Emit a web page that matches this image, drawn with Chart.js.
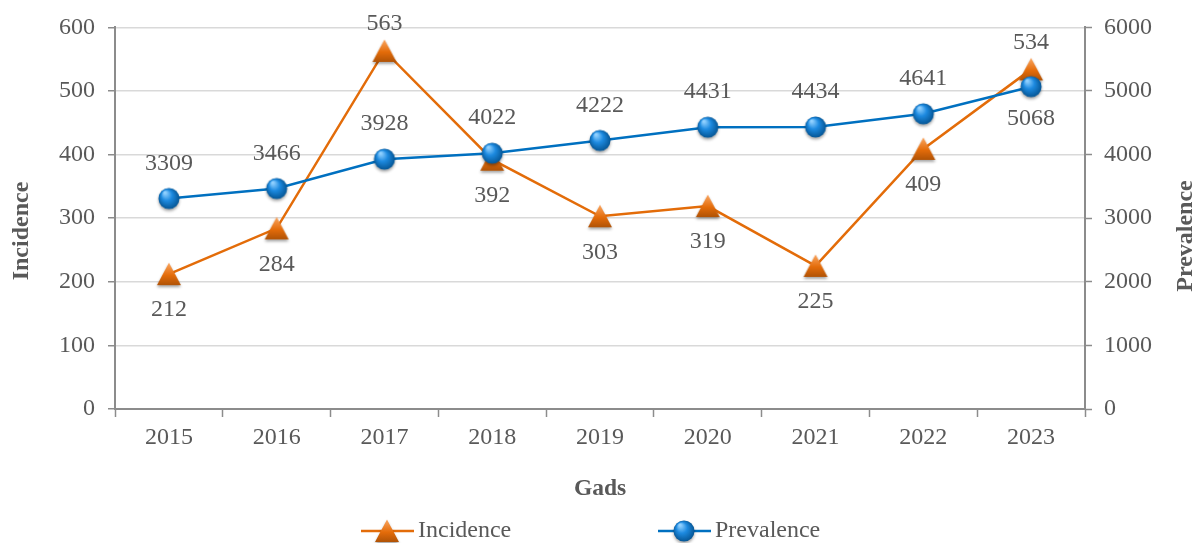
<!DOCTYPE html>
<html>
<head>
<meta charset="utf-8">
<script src="https://cdn.jsdelivr.net/npm/chart.js@4/dist/chart.umd.min.js"></script>
<style>
  html, body { margin: 0; padding: 0; background: #ffffff; }
  #wrap { width: 1196px; height: 543px; }
</style>
</head>
<body>
<div id="wrap"><canvas id="chart" width="1196" height="543"></canvas></div>
<script>
// Donnees du graphique
const years = ['2015', '2016', '2017', '2018', '2019', '2020', '2021', '2022', '2023'];
const incidence = [212, 284, 563, 392, 303, 319, 225, 409, 534];
const prevalence = [3309, 3466, 3928, 4022, 4222, 4431, 4434, 4641, 5068];

// indices dont l'etiquette change de cote
const incidenceLabelsAbove = [2, 8];
const prevalenceLabelsBelow = [8];

const FONT = '"Liberation Serif", "Times New Roman", serif';
const TEXT_COLOR = '#595959';
const AXIS_COLOR = '#8c8c8c';
const GRID_COLOR = '#d9d9d9';
const ORANGE = '#e36c09';
const BLUE = '#0070c0';

// Marqueur triangle orange avec degrade et ombre
function makeTriangle() {
  const c = document.createElement('canvas');
  c.width = 34;
  c.height = 34;
  const g = c.getContext('2d');
  g.shadowColor = 'rgba(0,0,0,0.35)';
  g.shadowBlur = 3;
  g.shadowOffsetY = 2;
  g.beginPath();
  g.moveTo(17, 5.5);
  g.lineTo(29, 28);
  g.lineTo(5, 28);
  g.closePath();
  const grad = g.createLinearGradient(0, 6, 0, 28);
  grad.addColorStop(0, '#f9a45e');
  grad.addColorStop(0.55, '#e46c0a');
  grad.addColorStop(1, '#b05306');
  g.fillStyle = grad;
  g.fill();
  return c;
}

// Marqueur sphere bleue
function makeSphere() {
  const c = document.createElement('canvas');
  c.width = 34;
  c.height = 34;
  const g = c.getContext('2d');
  g.shadowColor = 'rgba(0,0,0,0.35)';
  g.shadowBlur = 3;
  g.shadowOffsetY = 2;
  g.beginPath();
  g.arc(17, 17, 10.5, 0, Math.PI * 2);
  const grad = g.createRadialGradient(13, 11, 1, 17, 17, 11);
  grad.addColorStop(0, '#8fd0ff');
  grad.addColorStop(0.45, '#1d8ae0');
  grad.addColorStop(1, '#045391');
  g.fillStyle = grad;
  g.fill();
  return c;
}

const triangleMarker = makeTriangle();
const sphereMarker = makeSphere();

// Etiquettes de valeurs
const valueLabels = {
  id: 'valueLabels',
  afterDatasetsDraw(chart) {
    const ctx = chart.ctx;
    ctx.save();
    ctx.font = '24px ' + FONT;
    ctx.fillStyle = TEXT_COLOR;
    ctx.textAlign = 'center';
    ctx.textBaseline = 'middle';
    chart.data.datasets.forEach((ds, di) => {
      const meta = chart.getDatasetMeta(di);
      meta.data.forEach((pt, i) => {
        let dy;
        if (di === 0) {
          dy = incidenceLabelsAbove.includes(i) ? -27 : 36;
        } else {
          dy = prevalenceLabelsBelow.includes(i) ? 32 : -35;
        }
        ctx.fillText(String(ds.data[i]), pt.x, pt.y + dy);
      });
    });
    ctx.restore();
  }
};

// Titres des axes verticaux
const axisTitles = {
  id: 'axisTitles',
  afterDraw(chart) {
    const ctx = chart.ctx;
    ctx.save();
    ctx.font = 'bold 24px ' + FONT;
    ctx.fillStyle = TEXT_COLOR;
    ctx.textAlign = 'center';
    ctx.textBaseline = 'middle';
    [['Incidence', 22, 231], ['Prevalence', 1186, 236]].forEach(([txt, x, y]) => {
      ctx.save();
      ctx.translate(x, y);
      ctx.rotate(-Math.PI / 2);
      ctx.fillText(txt, 0, 0);
      ctx.restore();
    });
    ctx.restore();
  }
};

// Legende dessinee a la main (ligne + marqueur)
const customLegend = {
  id: 'customLegend',
  afterDraw(chart) {
    const ctx = chart.ctx;
    const y = 531;
    const items = [
      { x: 361, label: 'Incidence', color: ORANGE, marker: triangleMarker },
      { x: 658, label: 'Prevalence', color: BLUE, marker: sphereMarker }
    ];
    ctx.save();
    items.forEach((it) => {
      ctx.strokeStyle = it.color;
      ctx.lineWidth = 2.5;
      ctx.beginPath();
      ctx.moveTo(it.x, y);
      ctx.lineTo(it.x + 53, y);
      ctx.stroke();
      const cx = it.x + 26;
      ctx.drawImage(it.marker, cx - it.marker.width / 2, y - it.marker.height / 2);
      ctx.font = '24px ' + FONT;
      ctx.fillStyle = TEXT_COLOR;
      ctx.textAlign = 'left';
      ctx.textBaseline = 'middle';
      ctx.fillText(it.label, it.x + 57, y);
    });
    ctx.restore();
  }
};

const tickFont = { family: FONT, size: 24 };
const titleFont = { family: FONT, size: 23.5, weight: 'bold', lineHeight: 1.2 };

new Chart(document.getElementById('chart'), {
  type: 'line',
  data: {
    labels: years,
    datasets: [
      {
        label: 'Incidence',
        data: incidence,
        yAxisID: 'y',
        borderColor: ORANGE,
        borderWidth: 2.5,
        pointStyle: triangleMarker,
        pointRadius: 11,
        tension: 0,
        clip: false,
        order: 2
      },
      {
        label: 'Prevalence',
        data: prevalence,
        yAxisID: 'y1',
        borderColor: BLUE,
        borderWidth: 2.5,
        pointStyle: sphereMarker,
        pointRadius: 11,
        tension: 0,
        clip: false,
        order: 1
      }
    ]
  },
  options: {
    responsive: false,
    animation: false,
    devicePixelRatio: 1,
    layout: { padding: { top: 26, left: 0, right: 0, bottom: 0 } },
    plugins: {
      legend: { display: false },
      tooltip: { enabled: false }
    },
    scales: {
      x: {
        offset: true,
        grid: {
          offset: true,
          drawOnChartArea: false,
          tickLength: 8,
          tickColor: AXIS_COLOR,
          tickWidth: 1.5
        },
        border: { color: AXIS_COLOR, width: 2 },
        ticks: { font: tickFont, color: TEXT_COLOR, padding: 6, maxRotation: 0 },
        title: {
          display: true,
          text: 'Gads',
          font: titleFont,
          color: TEXT_COLOR,
          padding: { top: 0, bottom: 40 }
        },
        afterFit(scale) { scale.height = 134; }
      },
      y: {
        position: 'left',
        min: 0,
        max: 600,
        ticks: { stepSize: 100, font: tickFont, color: TEXT_COLOR, padding: 13 },
        grid: {
          color: GRID_COLOR,
          lineWidth: 1.5,
          tickLength: 7,
          tickColor: AXIS_COLOR,
          tickWidth: 1.5
        },
        border: { color: AXIS_COLOR, width: 2 },
        afterFit(scale) { scale.width = 115; }
      },
      y1: {
        position: 'right',
        min: 0,
        max: 6000,
        ticks: {
          stepSize: 1000,
          font: tickFont,
          color: TEXT_COLOR,
          padding: 12,
          callback: (v) => String(v)
        },
        grid: {
          drawOnChartArea: false,
          tickLength: 7,
          tickColor: AXIS_COLOR,
          tickWidth: 1.5
        },
        border: { color: AXIS_COLOR, width: 2 },
        afterFit(scale) { scale.width = 111; }
      }
    }
  },
  plugins: [valueLabels, axisTitles, customLegend]
});
</script>
</body>
</html>
